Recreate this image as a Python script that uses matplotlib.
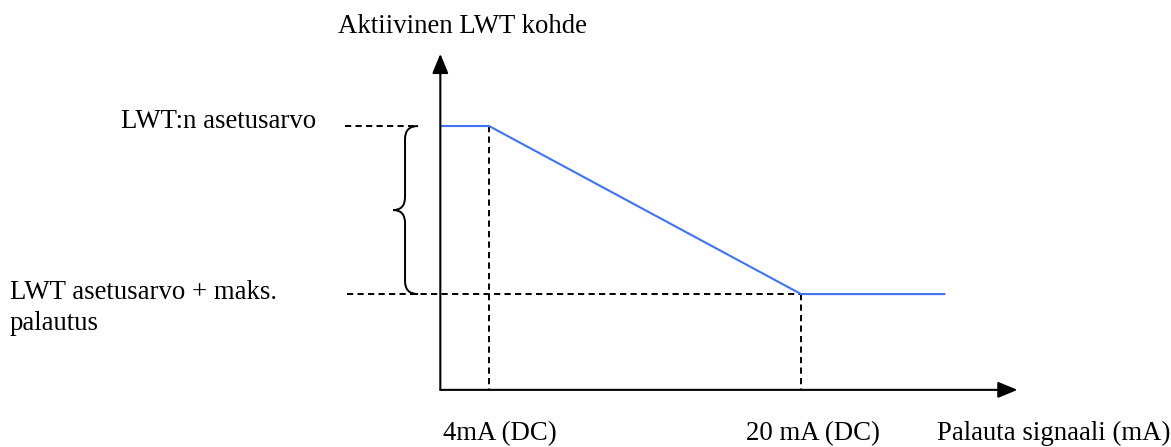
import matplotlib.pyplot as plt
from matplotlib.path import Path
from matplotlib.patches import PathPatch

# Signal (mA) vs active LWT target (1 = LWT setpoint, 0 = setpoint + max reset)
signal_ma = [1.5, 4, 20, 27.4]
lwt_target = [1, 1, 0, 0]

signal_ticks = [4, 20]
signal_labels = ['4mA (DC)', '20 mA (DC)']
level_values = [1, 0]
level_labels = ['LWT:n asetusarvo', 'LWT asetusarvo + maks.', 'palautus']
y_title = 'Aktiivinen LWT kohde'
x_title = 'Palauta signaali (mA)'

plt.rcParams['font.family'] = ['Liberation Serif', 'DejaVu Serif']

W, H = 1171, 447
fig = plt.figure(figsize=(W / 100, H / 100), dpi=100)
ax = fig.add_axes([0, 0, 1, 1])
ax.set_xlim(-21.08, 38.97)
ax.set_ylim(-0.91, 1.75)
ax.axis('off')

x0, y0 = 1.5, -0.57       # origin of the drawn axes
x_tip, y_tip = 31.1, 1.43  # arrow tips
fs = 19.3
dash = dict(color='black', lw=1.4, linestyle=(0, (3.2, 2.2)))


def put(px, py, s):
    # text placed in figure pixels (baseline, left)
    fig.text(px / W, 1 - py / H, s, fontsize=fs, va='baseline', ha='left')


# axes with arrowheads
arrow = dict(arrowstyle='-|>,head_length=0.85,head_width=0.35', mutation_scale=14,
             color='black', lw=1.5, shrinkA=0, shrinkB=0)
ax.annotate('', xy=(x0, y_tip), xytext=(x0, y0), arrowprops=arrow)
ax.annotate('', xy=(x_tip, y0), xytext=(x0, y0), arrowprops=arrow)

# guide lines
ax.plot([-3.4, 0.36], [level_values[0]] * 2, **dash)
ax.plot([-3.3, signal_ticks[1]], [level_values[1]] * 2, **dash)
ax.plot([signal_ticks[0]] * 2, [level_values[0], y0], **dash)
ax.plot([signal_ticks[1]] * 2, [level_values[1], y0], **dash)

# reset curve
ax.plot(signal_ma, lwt_target, color='#3f73f2', lw=1.5, solid_capstyle='butt')

# curly brace between the two levels
bx, tip, end = -0.31, -0.92, 0.36
ymid = (level_values[0] + level_values[1]) / 2
r = 0.077
verts = [(end, 1), (bx, 1), (bx, 1 - r),
         (bx, ymid + r), (bx, ymid), (tip, ymid),
         (bx, ymid), (bx, ymid - r),
         (bx, r), (bx, 0), (end, 0)]
codes = [Path.MOVETO, Path.CURVE3, Path.CURVE3,
         Path.LINETO, Path.CURVE3, Path.CURVE3,
         Path.CURVE3, Path.CURVE3,
         Path.LINETO, Path.CURVE3, Path.CURVE3]
ax.add_patch(PathPatch(Path(verts, codes), fill=False, lw=1.4, color='black'))

# texts
put(338, 33, y_title)
put(121, 128, level_labels[0])
put(10, 299, level_labels[1])
put(10, 330, level_labels[2])
put(443, 440, signal_labels[0])
put(746, 440, signal_labels[1])
put(937, 440, x_title)

fig.savefig('out.png', dpi=100)
